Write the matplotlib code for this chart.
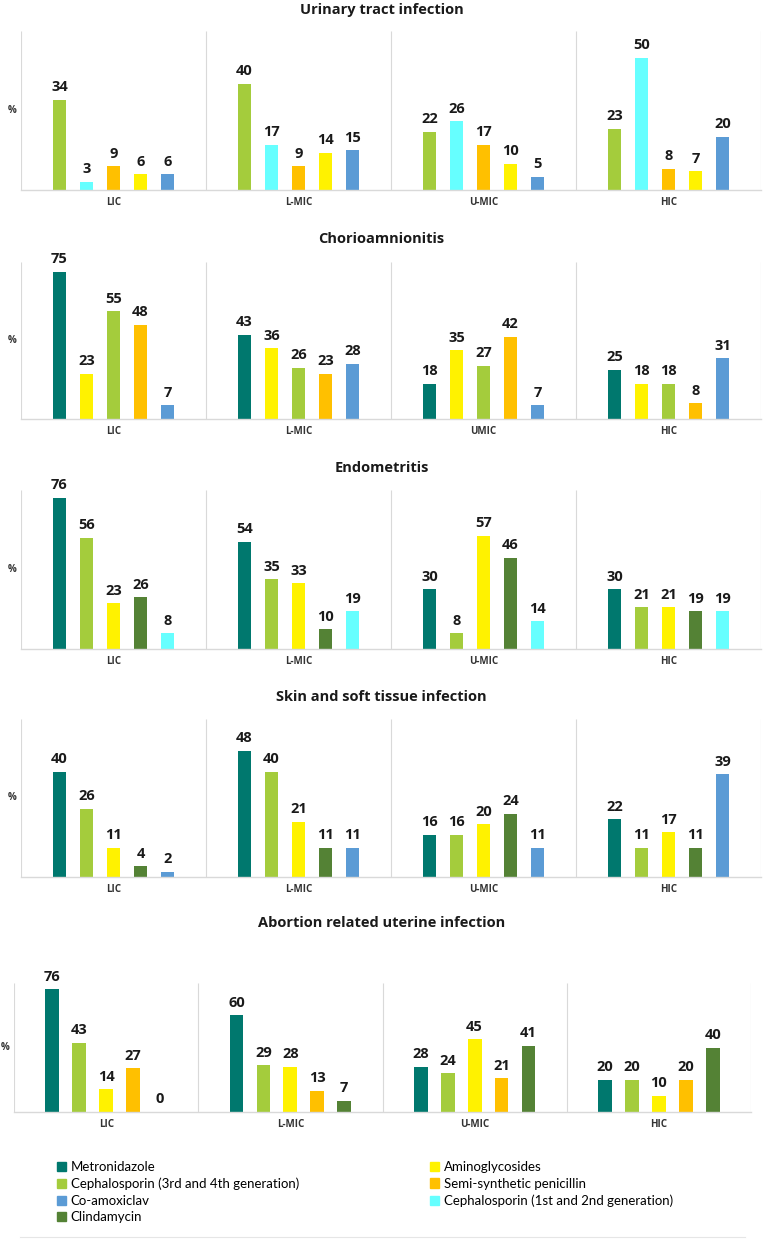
import matplotlib
matplotlib.use("Agg")
import matplotlib.pyplot as plt
from matplotlib.patches import Patch
from matplotlib.lines import Line2D
import numpy as np

plt.rcParams['font.family'] = ['Lato', 'DejaVu Sans']
BOLD_FONT = ['Open Sans', 'DejaVu Sans']

W, H = 763, 1239

# ----- drug colours
colors = {
    "Metronidazole": "#00786E",
    "Cephalosporin (3rd and 4th generation)": "#A4CC3C",
    "Co-amoxiclav": "#5B9BD5",
    "Clindamycin": "#548235",
    "Aminoglycosides": "#FFF200",
    "Semi-synthetic penicillin": "#FFC000",
    "Cephalosporin (1st and 2nd generation)": "#66FFFF",
}
MET = "Metronidazole"
C34 = "Cephalosporin (3rd and 4th generation)"
COA = "Co-amoxiclav"
CLI = "Clindamycin"
AMI = "Aminoglycosides"
SSP = "Semi-synthetic penicillin"
C12 = "Cephalosporin (1st and 2nd generation)"

groups = ["LIC", "L-MIC", "U-MIC", "HIC"]
groups_chorio = ["LIC", "L-MIC", "UMIC", "HIC"]

# ----- data (% per income group), rows = groups, cols = drugs
uti_drugs = [C34, C12, SSP, AMI, COA]
uti_values = [[34, 3, 9, 6, 6],
              [40, 17, 9, 14, 15],
              [22, 26, 17, 10, 5],
              [23, 50, 8, 7, 20]]

chorio_drugs = [MET, AMI, C34, SSP, COA]
chorio_values = [[75, 23, 55, 48, 7],
                 [43, 36, 26, 23, 28],
                 [18, 35, 27, 42, 7],
                 [25, 18, 18, 8, 31]]

endo_drugs = [MET, C34, AMI, CLI, C12]
endo_values = [[76, 56, 23, 26, 8],
               [54, 35, 33, 10, 19],
               [30, 8, 57, 46, 14],
               [30, 21, 21, 19, 19]]

skin_drugs = [MET, C34, AMI, CLI, COA]
skin_values = [[40, 26, 11, 4, 2],
               [48, 40, 21, 11, 11],
               [16, 16, 20, 24, 11],
               [22, 11, 17, 11, 39]]

abort_drugs = [MET, C34, AMI, SSP, CLI]
abort_values = [[76, 43, 14, 27, 0],
                [60, 29, 28, 13, 7],
                [28, 24, 45, 21, 41],
                [20, 20, 10, 20, 40]]

legend_col1 = [MET, C34, COA, CLI]
legend_col2 = [AMI, SSP, C12]

# title, labels, drugs, values, ymax, (title_y, top, base, left, right) in px
panels = [
    ("Urinary tract infection", groups, uti_drugs, uti_values, 60, (10, 31, 190, 21, 761)),
    ("Chorioamnionitis", groups_chorio, chorio_drugs, chorio_values, 80, (239, 262, 419, 21, 761)),
    ("Endometritis", groups, endo_drugs, endo_values, 80, (468, 490, 649, 21, 761)),
    ("Skin and soft tissue infection", groups, skin_drugs, skin_values, 60, (697, 719, 877, 21, 761)),
    ("Abortion related uterine infection", groups, abort_drugs, abort_values, 80, (923, 983, 1112, 14, 751)),
]

fig = plt.figure(figsize=(W / 100, H / 100), dpi=100)
grid_c = "#D9D9D9"

for title, labels, drugs, values, ymax, (ty, top, base, left, right) in panels:
    ax = fig.add_axes([left / W, 1 - base / H, (right - left) / W, (base - top) / H])
    vals = np.array(values)
    x = np.arange(len(labels)) + 0.5
    for j, drug in enumerate(drugs):
        bars = ax.bar(x + (j - 2) * 0.146, vals[:, j], width=0.075,
                      color=colors[drug], lw=0)
        ax.bar_label(bars, padding=4, fontsize=10.5, fontweight='bold',
                     color='#1a1a1a', family=BOLD_FONT)
    ax.vlines(np.arange(len(labels) + 1), 0, ymax, color=grid_c, lw=0.8)
    ax.set_xlim(0, len(labels))
    ax.set_ylim(0, ymax)
    ax.set_yticks([])
    ax.set_xticks(x)
    ax.set_xticklabels(labels, fontsize=7, fontweight='bold', color='#333333',
                       family=BOLD_FONT)
    ax.tick_params(axis='x', length=0, pad=5)
    for s in ["top", "left", "right"]:
        ax.spines[s].set_visible(False)
    ax.spines["bottom"].set_color(grid_c)
    ax.spines["bottom"].set_linewidth(1.0)
    ax.patch.set_alpha(0)

    fig.text(0.5, 1 - ty / H, title, ha='center', va='center',
             fontsize=10.5, fontweight='bold', color='#1a1a1a', family=BOLD_FONT)
    fig.text(left / W - 9 / W, 1 - (top + base) / 2 / H, "%", ha='center', va='center',
             fontsize=7, fontweight='bold', color='#333333', family=BOLD_FONT)

# ----- legend, two columns
for names, xpx in [(legend_col1, 57), (legend_col2, 430)]:
    handles = [Patch(facecolor=colors[n], edgecolor=colors[n]) for n in names]
    fig.legend(handles=handles, labels=names, loc='upper left',
               bbox_to_anchor=(xpx / W, 1 - 1161 / H), frameon=False,
               fontsize=9.5, handlelength=0.7, handleheight=0.7,
               handletextpad=0.35, labelspacing=0.35, borderpad=0, borderaxespad=0)

fig.add_artist(Line2D([20 / W, 745 / W], [1 - 1237 / H] * 2, color='#E6E6E6', lw=0.8))

fig.savefig("out.png", dpi=100)
